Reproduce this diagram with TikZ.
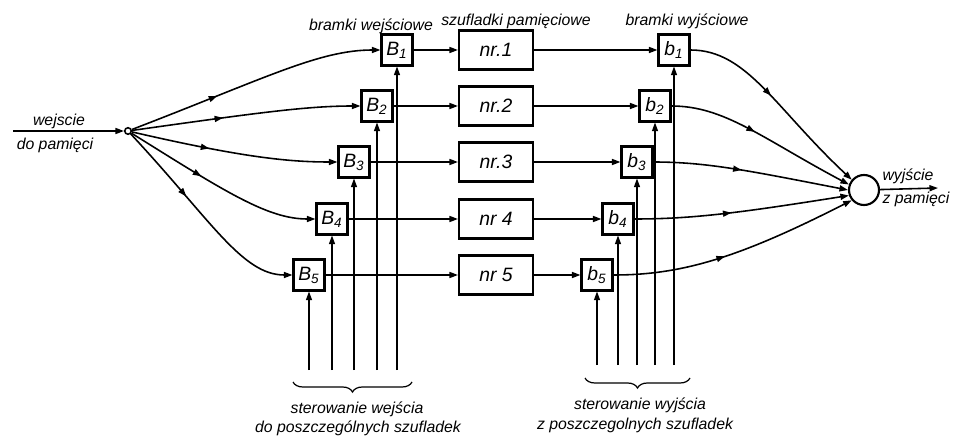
\documentclass[tikz,border=0pt]{standalone}
\usepackage{fontspec}
\setmainfont{Liberation Sans}
\usetikzlibrary{arrows.meta, positioning, decorations.markings, decorations.pathreplacing}
\tikzset{
  gate/.style={rectangle, draw, minimum size=0.62cm, inner sep=0pt,
    line width=1.2pt, font=\fontsize{11}{12}\selectfont\itshape},
  drawer/.style={rectangle, draw, minimum width=1.48cm, minimum height=0.78cm,
    inner sep=0pt, line width=1.2pt, font=\fontsize{11}{12}\selectfont\itshape},
  joint/.style={circle, draw, minimum size=0.13cm, inner sep=0pt, line width=0.9pt},
  sink/.style={circle, draw, minimum size=0.6cm, inner sep=0pt, line width=1.2pt},
  lbl/.style={font=\fontsize{9}{10}\selectfont\itshape, inner sep=1pt},
  arrowend/.style={-{Triangle[length=1.7mm,width=1.2mm]}},
  wire/.style={arrowend, line width=0.9pt},
  ctrl/.style={arrowend, line width=0.6pt},
  midtip/.style={postaction={decorate}, decoration={markings,
    mark=at position #1 with {\arrow{Triangle[length=1.7mm,width=1.2mm]}}}},
  curly/.style={decorate, decoration={brace, mirror, amplitude=0.2cm}, line width=0.7pt}
}
\begin{document}
\begin{tikzpicture}[x=0.02cm, y=-0.02cm]
  \useasboundingbox (0,0) rectangle (953,442);
  % input and output points
  \node[joint] (src) at (128,131) {};
  \node[sink] (dst) at (864,190) {};
  \coordinate (srcl) at (13,131);
  \coordinate (dstr) at (938,188);
  \draw[wire] (srcl) -- (src);
  \draw[wire] (dst) -- (dstr);
  \node[lbl] (srcA) at (59,121) {wejscie};
  \node[lbl] (srcB) at (55,145) {do pamięci};
  \node[lbl] (dstA) at (908,176) {wyjście};
  \node[lbl] (dstB) at (916,199) {z pamięci};

  % headers
  \node[lbl] (hdrB) at (371,26) {bramki wejściowe};
  \node[lbl] (hdrN) at (516,21) {szufladki pamięciowe};
  \node[lbl] (hdrb) at (687,21) {bramki wyjściowe};

  % gates, drawers and control lines
  \foreach \i/\y/\xB/\xb/\nr in {1/50/397/674/nr.1, 2/106/377/655/nr.2,
      3/162/354/637/nr.3, 4/219/332/618/nr 4, 5/275/309/597/nr 5} {
    \node[gate] (B\i) at (\xB,\y) {B\textsubscript{\i}};
    \node[drawer] (n\i) at (496,\y) {\nr};
    \node[gate] (b\i) at (\xb,\y) {b\textsubscript{\i}};
    \coordinate (cB\i) at (\xB,370);
    \coordinate (cb\i) at (\xb,365);
    \draw[wire] (B\i) -- (n\i);
    \draw[wire] (n\i) -- (b\i);
    \draw[ctrl] (cB\i) -- (B\i);
    \draw[ctrl] (cb\i) -- (b\i);
  }

  % fan out to input gates
  \foreach \i/\o/\p in {1/21/0.35, 2/8/0.4, 3/-13/0.38, 4/-32/0.4, 5/-47/0.38}
    \draw[wire, midtip=\p] (src) to[out=\o, in=180, out looseness=1.4,
      in looseness=0.6] (B\i.west);

  % fan in from output gates
  \foreach \i/\a/\e in {1/137/140, 2/152/160, 3/169/180, 4/-171/200, 5/-153/220}
    \draw[wire, midtip=0.45] (b\i.east) to[out=0, in=\a, out looseness=0.7,
      in looseness=1.3] (dst.\e);

  % braces and control labels
  \coordinate (brBl) at (293,382);
  \coordinate (brBr) at (412,382);
  \coordinate (brbl) at (585,378);
  \coordinate (brbr) at (690,378);
  \draw[curly] (brBl) -- (brBr);
  \draw[curly] (brbl) -- (brbr);
  \node[lbl] (ctlB1) at (357,409) {sterowanie wejścia};
  \node[lbl] (ctlB2) at (358,428) {do poszczególnych szufladek};
  \node[lbl] (ctlb1) at (640,405) {sterowanie wyjścia};
  \node[lbl] (ctlb2) at (635,425) {z poszczegolnych szufladek};
\end{tikzpicture}
\end{document}
